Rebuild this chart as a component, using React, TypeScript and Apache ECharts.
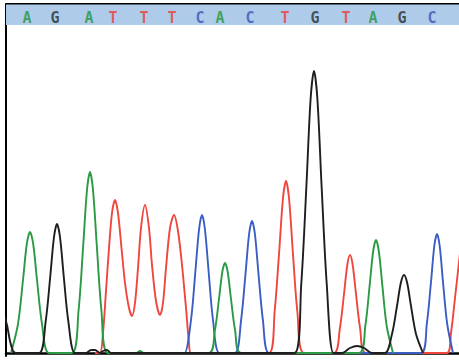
import React, { useEffect, useRef } from "react";
import * as echarts from "echarts";

// Base calls shown in the header band
const baseLetters = ["A", "G", "A", "T", "T", "T", "C", "A", "C", "T", "G", "T", "A", "G", "C"];
const basePositions = [27, 55, 89, 113, 144, 172, 200, 220, 250, 285, 315, 346, 373, 402, 432];

// Trace samples [scan position, signal]
const traceG: number[][] = [
  [-5, 60], [0, 48], [4, 38], [7, 28], [10, 12], [13, 2], [16, 0],
  [39, 0], [45.6, 31], [50.3, 77], [54, 116], [57, 129], [60, 116], [63.7, 77], [68.4, 31], [75, 0],
  [86, 0], [91, 3], [95, 3], [100, 0], [103, 2], [107, 3], [111, 0],
  [294.5, 0], [301.2, 68], [306.5, 169], [310.6, 254], [314, 282], [317.4, 254], [321.5, 169], [326.8, 68], [333.5, 0],
  [342, 0], [350, 5], [357, 7], [364, 5], [372, 0],
  [385, 0], [392, 19], [397, 47], [400.8, 70], [404, 78], [407.2, 70], [411, 47], [416, 19], [423, 0],
];
const traceA: number[][] = [
  [11, 0], [18, 29], [23, 73], [26.8, 109], [30, 121], [33.2, 109], [37, 73], [42, 29], [49, 0],
  [72, 0], [78.6, 43], [83.3, 109], [87, 163], [90, 181], [93, 163], [96.7, 109], [101.4, 43], [108, 0],
  [136, 0], [140, 2], [144, 0],
  [209, 0], [214.8, 22], [219, 54], [222.3, 81], [225, 90], [227.7, 81], [231, 54], [235.2, 22], [241, 0],
  [359, 0], [365.3, 27], [369.7, 68], [373.2, 102], [376, 113], [378.8, 102], [382.3, 68], [386.7, 27], [393, 0],
];
const traceT: number[][] = [
  [95, 0], [100, 0], [103, 20], [106, 62], [109, 105], [112, 140], [115, 153], [118, 140], [121.5, 105], [125, 70],
  [129, 45], [132, 37], [135, 50], [138, 85], [141, 125], [145, 148], [149, 125], [152, 88], [156, 52], [160, 38],
  [163, 50], [166, 85], [170, 125], [174, 138], [178, 122], [182, 88], [186, 45], [189, 10], [191, 0],
  [269, 0], [274.6, 41], [279.3, 103], [283, 155], [286, 172], [289, 155], [292.7, 103], [297.4, 41], [304, 0],
  [334, 0], [339.8, 24], [344, 59], [347.3, 88], [350, 98], [352.7, 88], [356, 59], [360.2, 24], [366, 0],
  [447, 0], [451, 20], [455, 55], [460, 100],
];
const traceC: number[][] = [
  [180, 0], [184.5, 0], [191, 33], [195.5, 83], [199.1, 124], [202, 138], [204.9, 124], [208.5, 83], [213, 33], [219.5, 0],
  [235, 0], [241, 32], [245.5, 79], [249.1, 119], [252, 132], [254.9, 119], [258.5, 79], [263, 32], [269, 0],
  [290, 0], [421, 0], [426.8, 29], [431, 71], [434.3, 107], [437, 119], [439.7, 107], [443, 71], [447.2, 29], [453, 0],
];

const colors: Record<string, string> = {
  A: "#23963c",
  C: "#3556b8",
  G: "#2b2b2b",
  T: "#ee3b34",
};
const traceColors = { A: "#2a9a44", C: "#3a5ec4", G: "#1e1e1e", T: "#f0463e" };

export default function App() {
  const ref = useRef<HTMLDivElement>(null);
  useEffect(() => {
    if (!ref.current) return;
    const chart = echarts.init(ref.current, null, { renderer: "svg" });
    const lineSeries = (name: string, data: number[][], color: string) => ({
      name,
      type: "line",
      data,
      showSymbol: false,
      symbol: "none",
      smooth: 0.3,
      lineStyle: { color, width: 1.9 },
      silent: true,
      clip: true,
      z: 3,
    });
    chart.setOption({
      animation: false,
      backgroundColor: "#ffffff",
      grid: { left: 6, right: 0, top: 4, bottom: 5 },
      xAxis: [
        {
          type: "value",
          min: 6,
          max: 459,
          axisLine: { show: true, lineStyle: { color: "#000", width: 2.5 } },
          axisTick: { show: false },
          axisLabel: { show: false },
          splitLine: { show: false },
        },
        {
          type: "value",
          position: "top",
          min: 6,
          max: 459,
          axisLine: { show: true, onZero: false, lineStyle: { color: "#000", width: 2 } },
          axisTick: { show: false },
          axisLabel: { show: false },
          splitLine: { show: false },
        },
      ],
      yAxis: {
        type: "value",
        min: -3,
        max: 349,
        axisLine: { show: true, onZero: false, lineStyle: { color: "#000", width: 2 } },
        axisTick: { show: false },
        axisLabel: { show: false },
        splitLine: { show: false },
      },
      series: [
        {
          type: "scatter",
          symbolSize: 1,
          itemStyle: { color: "rgba(0,0,0,0)" },
          silent: true,
          z: 5,
          data: basePositions.map((x, i) => ({
            value: [x, 335.5],
            label: {
              show: true,
              position: "inside",
              formatter: baseLetters[i],
              color: colors[baseLetters[i]],
              fontFamily: "DejaVu Sans Mono",
              fontWeight: "bold",
              fontSize: 15,
            },
          })),
          markArea: {
            silent: true,
            itemStyle: { color: "#aecbea" },
            data: [[{ yAxis: 328 }, { yAxis: 348.5 }]],
          },
        },
        lineSeries("T", traceT, traceColors.T),
        lineSeries("C", traceC, traceColors.C),
        lineSeries("A", traceA, traceColors.A),
        lineSeries("G", traceG, traceColors.G),
      ],
    });
    return () => chart.dispose();
  }, []);
  return (
    <div
      ref={ref}
      style={{ position: "fixed", left: 0, top: 0, width: 459, height: 361, background: "#fff" }}
    />
  );
}
